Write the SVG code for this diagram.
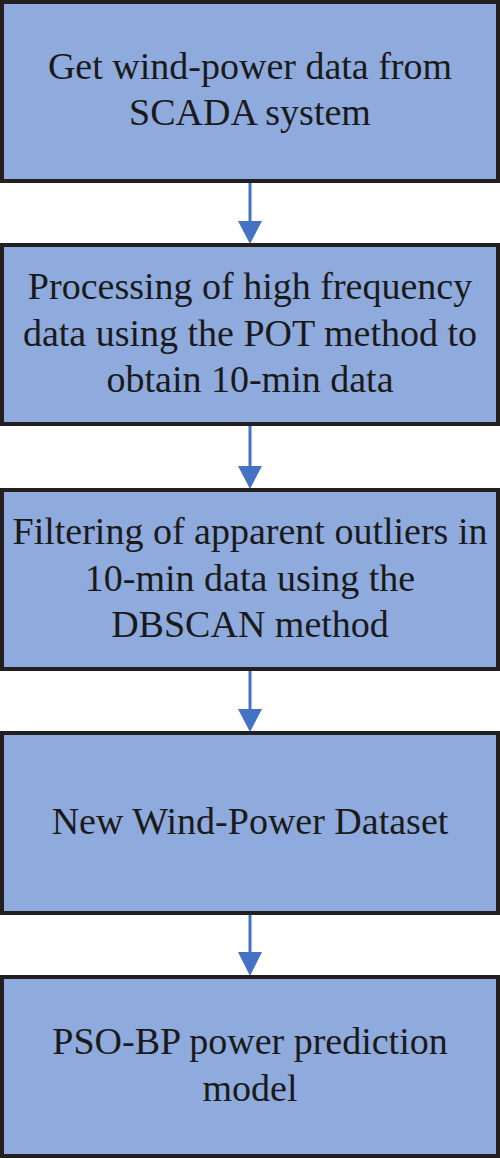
<svg xmlns="http://www.w3.org/2000/svg" width="500" height="1158" viewBox="0 0 500 1158">
<style>
.box{fill:#8FAADC;stroke:#231F20;stroke-width:4}
.t{font-family:"Liberation Serif","Times New Roman",serif;font-size:38px;fill:#1a1a1a;text-anchor:middle}
.ln{stroke:#4472C4;stroke-width:3;fill:none}
.hd{fill:#4472C4}
</style>
<rect width="500" height="1158" fill="#ffffff"/>
<g id="connectors">
<line class="ln" x1="250" y1="183" x2="250" y2="224"/>
<polygon class="hd" points="238,221 262,221 250,244"/>
<line class="ln" x1="250" y1="426" x2="250" y2="469"/>
<polygon class="hd" points="238,466 262,466 250,489"/>
<line class="ln" x1="250" y1="671" x2="250" y2="712"/>
<polygon class="hd" points="238,709 262,709 250,732"/>
<line class="ln" x1="250" y1="915" x2="250" y2="955"/>
<polygon class="hd" points="238,952 262,952 250,976"/>
</g>
<g id="node1">
<rect class="box" x="2" y="2" width="496" height="179"/>
<text class="t" x="250" y="79">Get wind-power data from</text>
<text class="t" x="250" y="125">SCADA system</text>
</g>
<g id="node2">
<rect class="box" x="2" y="245" width="496" height="179"/>
<text class="t" x="250" y="299">Processing of high frequency</text>
<text class="t" x="250" y="346">data using the POT method to</text>
<text class="t" x="250" y="392">obtain 10-min data</text>
</g>
<g id="node3">
<rect class="box" x="2" y="490" width="496" height="179"/>
<text class="t" x="250" y="544">Filtering of apparent outliers in</text>
<text class="t" x="250" y="591">10-min data using the</text>
<text class="t" x="250" y="637">DBSCAN method</text>
</g>
<g id="node4">
<rect class="box" x="2" y="733" width="496" height="180"/>
<text class="t" x="250" y="834">New Wind-Power Dataset</text>
</g>
<g id="node5">
<rect class="box" x="2" y="977" width="496" height="179"/>
<text class="t" x="250" y="1054">PSO-BP power prediction</text>
<text class="t" x="250" y="1101">model</text>
</g>
</svg>
